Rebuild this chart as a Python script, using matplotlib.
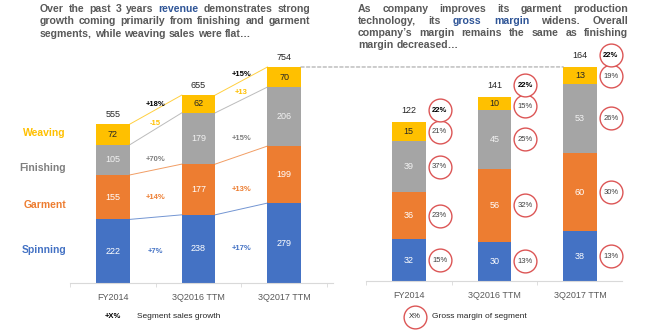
import numpy as np
import matplotlib
matplotlib.use("Agg")
import matplotlib.pyplot as plt
from matplotlib.patches import ConnectionPatch
from matplotlib.lines import Line2D

plt.rcParams['font.family'] = ['Liberation Sans', 'DejaVu Sans']

# data
periods = ['FY2014', '3Q2016 TTM', '3Q2017 TTM']
segments = ['Spinning', 'Garment', 'Finishing', 'Weaving']

rev_spinning = [222, 238, 279]
rev_garment = [155, 177, 199]
rev_finishing = [105, 179, 206]
rev_weaving = [72, 62, 70]
rev_total = [555, 655, 754]

# growth labels between periods: spinning, garment, finishing, weaving, total
growth_a = ['+7%', '+14%', '+70%', '-15', '+18%']
growth_b = ['+17%', '+13%', '+15%', '+13', '+15%']

gp_spinning = [32, 30, 38]
gp_garment = [36, 56, 60]
gp_finishing = [39, 45, 53]
gp_weaving = [15, 10, 13]
gp_total = [122, 141, 164]

margin_spinning = ['15%', '13%', '13%']
margin_garment = ['23%', '32%', '30%']
margin_finishing = ['37%', '25%', '26%']
margin_weaving = ['21%', '15%', '19%']
margin_total = ['22%', '22%', '22%']

# colours
colors = ['#4472C4', '#ED7D31', '#A5A5A5', '#FFC000']
label_colors = ['#4472C4', '#ED7D31', '#7F7F7F', '#FFC000']
grey_txt = '#595959'
blue_txt = '#2F5597'
red_ring = '#DC5656'

W, H = 646, 336
fig = plt.figure(figsize=(W / 100, H / 100), dpi=100)
renderer = fig.canvas.get_renderer()


def fx(px):
    return px / W


def fy(py):
    return 1 - py / H


def justified(lines, x0, x1, y0, dy, size=7.6):
    # place word by word so every line but the last fills x0..x1
    for i, line in enumerate(lines):
        words = []
        for chunk, col in line:
            for w in chunk.split():
                words.append((w, col))
        texts = [fig.text(0, 0, w, color=c, fontsize=size, fontweight='bold',
                          va='center', ha='left') for w, c in words]
        widths = [t.get_window_extent(renderer).width for t in texts]
        if i == len(lines) - 1:
            gap = size * 0.278 * 100 / 72
        else:
            gap = (x1 - x0 - sum(widths)) / (len(words) - 1)
        x = x0
        for t, w in zip(texts, widths):
            t.set_position((fx(x), fy(y0 + i * dy)))
            x += w + gap


justified([
    [('Over the past 3 years', grey_txt), ('revenue', blue_txt), ('demonstrates strong', grey_txt)],
    [('growth coming primarily from finishing and garment', grey_txt)],
    [('segments, while weaving sales were flat\u2026', grey_txt)],
], 40, 310, 9, 12.4)

justified([
    [('As company improves its garment production', grey_txt)],
    [('technology, its', grey_txt), ('gross margin', blue_txt), ('widens. Overall', grey_txt)],
    [('company\u2019s margin remains the same as finishing', grey_txt)],
    [('margin decreased\u2026', grey_txt)],
], 358, 628, 8.5, 12.3)

bw = 0.39
x = np.arange(len(periods))


def base_axes(ax, xmax):
    for s in ['top', 'left', 'right']:
        ax.spines[s].set_visible(False)
    ax.spines['bottom'].set_color('#D9D9D9')
    ax.set_yticks([])
    ax.set_xticks(x)
    ax.set_xticklabels(periods, fontsize=6.5, color=grey_txt)
    ax.tick_params(axis='x', which='major', length=0, pad=7)
    ax.set_xticks(np.arange(-0.5, xmax, 1.0), minor=True)
    ax.tick_params(axis='x', which='minor', length=3, color='#D9D9D9')
    ax.set_xlim(-0.5, xmax)
    ax.patch.set_alpha(0)


# ---- left chart: revenue ----
axl = fig.add_axes([fx(70), (H - 283) / H, 263 / W, 243.5 / H])
base_axes(axl, 2.57)
axl.set_ylim(0, 850)

rev = [rev_spinning, rev_garment, rev_finishing, rev_weaving]
bottom = np.zeros(3)
tops = []
mids = []
for k, vals in enumerate(rev):
    vals = np.array(vals)
    axl.bar(x, vals, bw, bottom=bottom, color=colors[k])
    for i in range(3):
        tc = '#262626' if k == 3 else ('#F2F2F2' if k == 2 else 'white')
        axl.text(x[i], bottom[i] + vals[i] / 2, str(vals[i]), ha='center',
                 va='center', fontsize=6.5, color=tc)
    mids.append(bottom + vals / 2)
    bottom = bottom + vals
    tops.append(bottom.copy())

for i in range(3):
    axl.annotate(str(rev_total[i]), (x[i], tops[-1][i]), xytext=(0, 7),
                 textcoords='offset points', ha='center', va='center',
                 fontsize=6.5, color='#262626')

# connectors between periods
for k in range(4):
    for i in range(2):
        axl.plot([x[i] + bw / 2, x[i + 1] - bw / 2], [tops[k][i], tops[k][i + 1]],
                 color=colors[k], lw=0.7, alpha=0.75)

growth_cols = ['#4472C4', '#ED7D31', '#7F7F7F', '#FFC000', '#000000']
for i, glabels in enumerate([growth_a, growth_b]):
    for k in range(5):
        if k < 4:
            yy = mids[k][i]
            off = 8 if k == 3 else 0
        else:
            yy = tops[-1][i]
            off = 14.5
        axl.annotate(glabels[k], (x[i] + 0.5, yy), xytext=(0, off),
                     textcoords='offset points', ha='center', va='center',
                     fontsize=5.5, fontweight='bold', color=growth_cols[k])

seg_label_y = [250, 205, 168, 133]
for k in range(4):
    fig.text(fx(66), fy(seg_label_y[k]), segments[k], ha='right', va='center',
             fontsize=7.5, fontweight='bold', color=label_colors[k])

# ---- right chart: gross profit ----
axr = fig.add_axes([fx(366), (H - 281) / H, 256 / W, 248 / H])
base_axes(axr, 2.49)
axr.set_ylim(0, 190)

gp = [gp_spinning, gp_garment, gp_finishing, gp_weaving]
margins = [margin_spinning, margin_garment, margin_finishing, margin_weaving]
bottom = np.zeros(3)
gmids = []
for k, vals in enumerate(gp):
    vals = np.array(vals)
    axr.bar(x, vals, bw, bottom=bottom, color=colors[k])
    for i in range(3):
        tc = '#262626' if k == 3 else ('#F2F2F2' if k == 2 else 'white')
        axr.text(x[i], bottom[i] + vals[i] / 2, str(vals[i]), ha='center',
                 va='center', fontsize=6.5, color=tc)
    gmids.append(bottom + vals / 2)
    bottom = bottom + vals
gtop = bottom

cx = x + 0.36
for i in range(3):
    ylab = gtop[i] + 9
    axr.text(x[i], ylab, str(gp_total[i]), ha='center', va='center',
             fontsize=6.5, color='#262626')
    ys = [gmids[k][i] for k in range(4)]
    ys[3] = min(ys[3], ylab - 16)
    axr.scatter([cx[i]] * 5, ys + [ylab], s=270, facecolor='white',
                edgecolor=red_ring, linewidth=1, zorder=3, clip_on=False)
    for k in range(4):
        axr.text(cx[i], ys[k], margins[k][i], ha='center', va='center',
                 fontsize=5.5, color='#404040', zorder=4)
    axr.text(cx[i], ylab, margin_total[i], ha='center', va='center',
             fontsize=5.5, fontweight='bold', color='#000000', zorder=4)

# dashed line linking the two latest totals
con = ConnectionPatch(xyA=(x[2] + bw / 2, tops[-1][2]), coordsA=axl.transData,
                      xyB=(x[2] - bw / 2, gtop[2]), coordsB=axr.transData,
                      color='#A6A6A6', lw=0.8, linestyle=(0, (3, 2)))
fig.add_artist(con)

# ---- bottom legends ----
fig.text(fx(113), fy(317), '+X%', ha='center', va='center', fontsize=5.5,
         fontweight='bold', color='#000000')
fig.text(fx(137), fy(317), 'Segment sales growth', ha='left', va='center',
         fontsize=6, color='#262626')
fig.add_artist(Line2D([fx(415)], [fy(317)], marker='o', markersize=16.4,
                      markerfacecolor='white', markeredgecolor=red_ring,
                      markeredgewidth=1, transform=fig.transFigure))
fig.text(fx(415), fy(317), 'X%', ha='center', va='center', fontsize=5.5,
         color='#262626')
fig.text(fx(432), fy(317), 'Gross margin of segment', ha='left', va='center',
         fontsize=6, color='#262626')

fig.savefig('out.png', dpi=100)
